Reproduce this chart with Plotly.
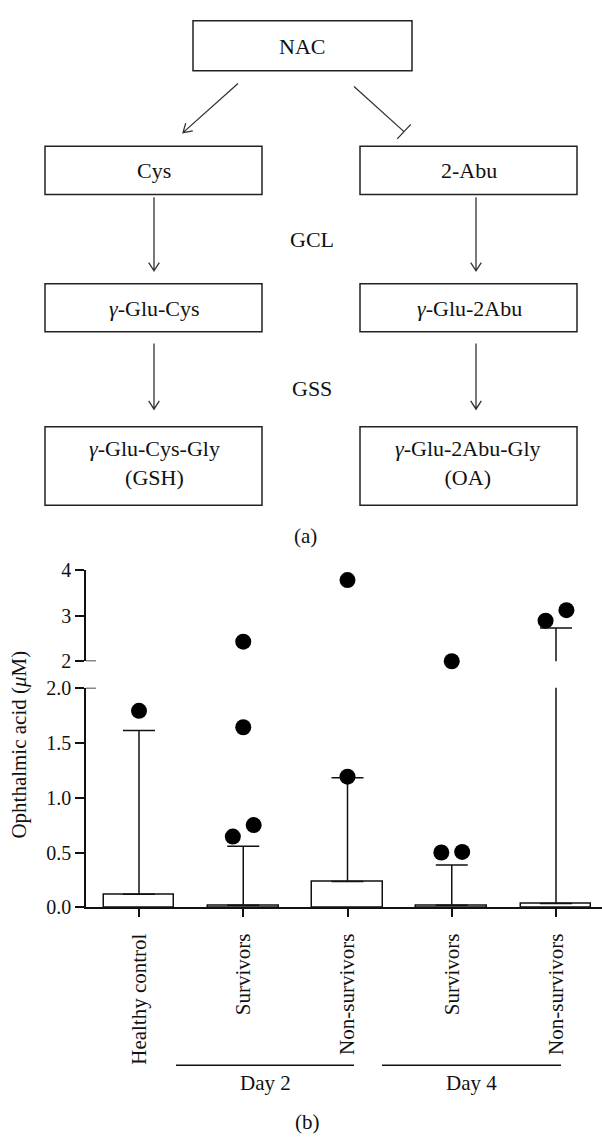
import math
import plotly.graph_objects as go

# ---- data -----------------------------------------------------------------
groups = ["Healthy control", "Survivors", "Non-survivors", "Survivors", "Non-survivors"]
median_oa = [0.12, 0.02, 0.235, 0.02, 0.036]          # bar heights (µM)
upper_range_oa = [1.61, 0.556, 1.18, 0.387, 2.73]     # top of whisker (µM)
outliers_oa = [
    [1.79],
    [2.43, 1.64, 0.75, 0.645],
    [3.78, 1.19],
    [2.0, 0.505, 0.50],
    [2.89, 3.12],
]
periods = ["Day 2", "Day 4"]
lower_ticks = [0.0, 0.5, 1.0, 1.5, 2.0]
upper_ticks = [2, 3, 4]

# ---- page geometry (pixels) ---------------------------------------------
W, H = 602, 1144
FONT = "Liberation Serif"
INK = "#111111"


def fx(px):
    return px / W


def fy(py):
    return 1 - py / H


# broken y axis: lower segment 0–2.0, upper segment 2–4
BREAK = 2.0
LOW_TOP, LOW_BOT = 690, 914
UP_TOP, UP_BOT = 570, 663
AX_LEFT = 86
FIRST_C, PITCH = 139, 104.25
low_scale = (LOW_BOT - LOW_TOP) / (BREAK - 0)
up_scale = (UP_BOT - UP_TOP) / (4 - BREAK)
MS = 16  # marker diameter

xs = list(range(len(groups)))


def spread(vals, scale):
    """Side-by-side offsets for points that would overlap vertically."""
    order = sorted(range(len(vals)), key=lambda i: vals[i])
    offs = [0.0] * len(vals)
    i = 0
    while i < len(order):
        j = i
        while j + 1 < len(order) and (vals[order[j + 1]] - vals[order[j]]) * scale < MS:
            j += 1
        n = j - i + 1
        if n > 1:
            for k in range(n):
                offs[order[i + k]] = (k - (n - 1) / 2) * 0.2
        i = j + 1
    return offs


lo_x, lo_y, up_x, up_y = [], [], [], []
for g, vals in zip(xs, outliers_oa):
    lo = [v for v in vals if v < BREAK]
    up = [v for v in vals if v >= BREAK]
    for v, o in zip(lo, spread(lo, low_scale)):
        lo_x.append(g + o)
        lo_y.append(v)
    for v, o in zip(up, spread(up, up_scale)):
        up_x.append(g + o)
        up_y.append(v)

fig = go.Figure()

err = dict(type="data", symmetric=False,
           array=[u - m for u, m in zip(upper_range_oa, median_oa)],
           arrayminus=[0] * len(median_oa),
           color=INK, thickness=1.5, width=16)

for xa, ya in (("x", "y"), ("x2", "y2")):
    fig.add_trace(go.Bar(
        x=xs, y=median_oa, xaxis=xa, yaxis=ya, width=0.68,
        marker=dict(color="white", line=dict(color=INK, width=1.5)),
        error_y=err, showlegend=False, hoverinfo="skip"))

fig.add_trace(go.Scatter(x=lo_x, y=lo_y, mode="markers", xaxis="x", yaxis="y",
                         marker=dict(size=MS, color="black"), cliponaxis=False,
                         showlegend=False))
fig.add_trace(go.Scatter(x=up_x, y=up_y, mode="markers", xaxis="x2", yaxis="y2",
                         marker=dict(size=MS, color="black"), cliponaxis=False,
                         showlegend=False))

x_range = [(AX_LEFT - FIRST_C) / PITCH, (W - FIRST_C) / PITCH]
yax_common = dict(showline=True, linecolor=INK, linewidth=1.5, ticks="outside",
                  ticklen=9, tickwidth=1.5, tickcolor=INK, showgrid=False,
                  zeroline=False, tickfont=dict(family=FONT, size=20, color=INK))

fig.update_layout(
    width=W, height=H, margin=dict(l=0, r=0, t=0, b=0),
    paper_bgcolor="white", plot_bgcolor="white", bargap=0,
    xaxis=dict(domain=[fx(AX_LEFT), 1], range=x_range, anchor="y",
               tickvals=xs, ticktext=groups, tickangle=-90,
               showline=True, linecolor=INK, linewidth=1.5,
               ticks="outside", ticklen=8, tickwidth=1.5, tickcolor=INK,
               ticklabelstandoff=8,
               showgrid=False, zeroline=False,
               tickfont=dict(family=FONT, size=21, color=INK)),
    xaxis2=dict(domain=[fx(AX_LEFT), 1], range=x_range, anchor="y2",
                matches="x", showline=False, showticklabels=False,
                ticks="", showgrid=False, zeroline=False),
    yaxis=dict(domain=[fy(LOW_BOT), fy(LOW_TOP)], range=[0, BREAK], anchor="x",
               tickvals=lower_ticks, tickformat=".1f", **yax_common),
    yaxis2=dict(domain=[fy(UP_BOT), fy(UP_TOP)], range=[BREAK, 4], anchor="x2",
                tickvals=upper_ticks, **yax_common),
)

shapes = []
annotations = []


def label(text, x, y, size=22, angle=0):
    annotations.append(dict(text=text, x=fx(x), y=fy(y), xref="paper", yref="paper",
                            showarrow=False, xanchor="center", yanchor="middle",
                            textangle=angle,
                            font=dict(family=FONT, size=size, color=INK)))


# break caps on the y axis
for yref in ("y", "y2"):
    shapes.append(dict(type="line", xref="paper", yref=yref,
                       x0=fx(AX_LEFT), x1=fx(AX_LEFT + 10), y0=BREAK, y1=BREAK,
                       line=dict(color=INK, width=1.5)))

label("Ophthalmic acid (<i>μ</i>M)", 19, 748, size=21, angle=-90)

# day group brackets
for name, (xa, xb) in zip(periods, [(176, 354), (382, 561)]):
    shapes.append(dict(type="line", xref="paper", yref="paper",
                       x0=fx(xa), x1=fx(xb), y0=fy(1075), y1=fy(1075),
                       line=dict(color=INK, width=1.5)))
    label(name, (xa + xb) / 2, 1093, size=21)


# ---- pathway scheme (a) -------------------------------------------------
def box(x0, y0, x1, y1):
    shapes.append(dict(type="rect", xref="paper", yref="paper",
                       x0=fx(x0), x1=fx(x1), y0=fy(y1), y1=fy(y0),
                       line=dict(color="#222222", width=1.5), fillcolor="white"))


def pt(x, y):
    return f"{fx(x):.5f},{fy(y):.5f}"


def arrow(x0, y0, x1, y1, head=10, ang=32, inhibit=False):
    L = math.hypot(x1 - x0, y1 - y0)
    dx, dy = (x1 - x0) / L, (y1 - y0) / L
    path = f"M {pt(x0, y0)} L {pt(x1, y1)}"
    if inhibit:
        px_, py_ = -dy, dx
        path += f" M {pt(x1 - 10 * px_, y1 - 10 * py_)} L {pt(x1 + 10 * px_, y1 + 10 * py_)}"
    else:
        a = math.radians(ang)
        arms = []
        for s in (1, -1):
            c, sn = math.cos(s * a), math.sin(s * a)
            rx, ry = dx * c - dy * sn, dx * sn + dy * c
            arms.append((x1 - head * rx, y1 - head * ry))
        path += f" M {pt(*arms[0])} L {pt(x1, y1)} L {pt(*arms[1])}"
    shapes.append(dict(type="path", xref="paper", yref="paper", path=path,
                       line=dict(color="#333333", width=1.3)))


LX0, LX1, RX0, RX1 = 45, 262, 360, 577
box(193, 10, 412, 61)
label("NAC", 302, 36)

box(LX0, 138, LX1, 187)
box(RX0, 138, RX1, 187)
label("Cys", 154, 163)
label("2-Abu", 469, 163)

box(LX0, 278, LX1, 327)
box(RX0, 278, RX1, 327)
label("<i>γ</i>-Glu-Cys", 154, 303)
label("<i>γ</i>-Glu-2Abu", 469, 303)

box(LX0, 424, LX1, 504)
box(RX0, 424, RX1, 504)
label("<i>γ</i>-Glu-Cys-Gly<br>(GSH)", 154, 461)
label("<i>γ</i>-Glu-2Abu-Gly<br>(OA)", 468, 461)

arrow(238, 74, 183, 124)
arrow(354, 77, 404, 123, inhibit=True)
arrow(154, 190, 154, 265)
arrow(476, 190, 476, 265)
arrow(154, 339, 154, 406)
arrow(476, 339, 476, 406)
label("GCL", 312, 233)
label("GSS", 312, 385)

label("(a)", 305, 535, size=21)
label("(b)", 307, 1133, size=21)

fig.update_layout(shapes=shapes, annotations=annotations)
fig.write_html("out.html", config={"displayModeBar": False})
